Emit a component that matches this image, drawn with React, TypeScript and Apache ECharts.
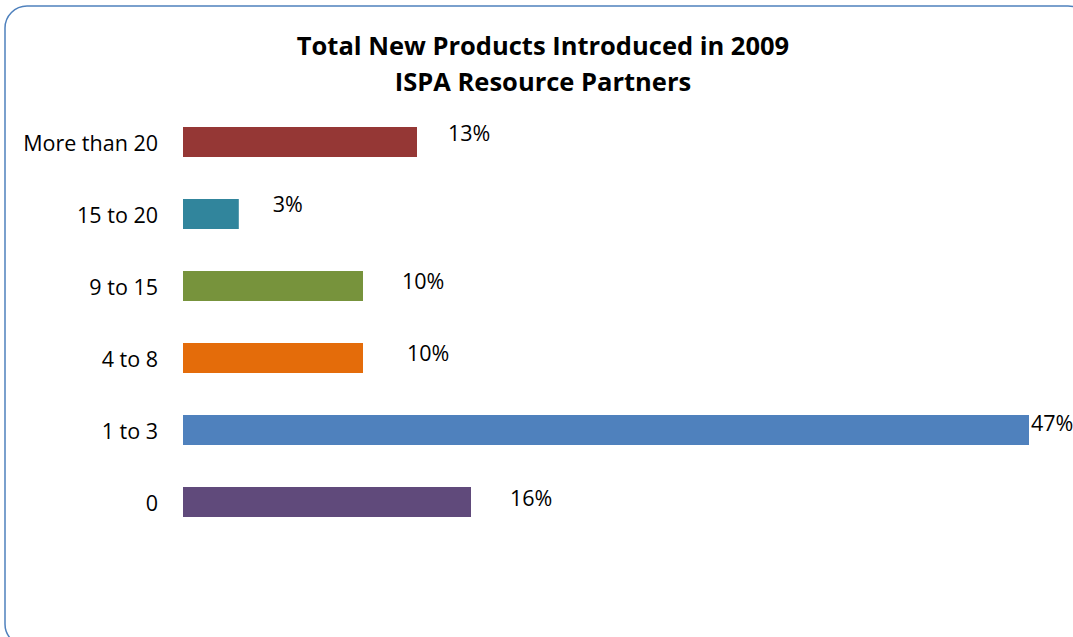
import React, { useEffect, useRef } from "react";
import * as echarts from "echarts";

const titleLines = ["Total New Products Introduced in 2009", "ISPA Resource Partners"];
const categories = ["0", "1 to 3", "4 to 8", "9 to 15", "15 to 20", "More than 20"];
const values = [16, 47, 10, 10, 3.1, 13];
const valueLabels = ["16%", "47%", "10%", "10%", "3%", "13%"];
const barColors = ["#604a7b", "#4f81bd", "#e46c0a", "#77933c", "#31859c", "#953735"];
const labelOffsets: [number, number][] = [
  [39, -5],
  [2, -8],
  [44, -6],
  [39, -6],
  [34, -11],
  [31, -10],
];

const FONT = "'Open Sans', sans-serif";

export default function App() {
  const ref = useRef<HTMLDivElement>(null);
  useEffect(() => {
    if (!ref.current) return;
    const chart = echarts.init(ref.current, undefined, { renderer: "svg" });
    chart.setOption({
      animation: false,
      backgroundColor: "#ffffff",
      graphic: [
        {
          type: "rect",
          shape: { x: 5, y: 6, width: 1085, height: 640, r: 22 },
          style: { fill: "none", stroke: "#4f81bd", lineWidth: 1.5 },
          silent: true,
        },
        ...titleLines.map((t, i) => ({
          type: "text",
          x: 543,
          y: 45 + i * 36,
          silent: true,
          style: {
            text: t,
            align: "center",
            verticalAlign: "middle",
            fontFamily: FONT,
            fontWeight: "bold",
            fontSize: 25.5,
            fill: "#000000",
          },
        })),
      ],
      grid: { left: 183, right: 44, top: 106, bottom: 99, containLabel: false },
      xAxis: {
        type: "value",
        min: 0,
        max: 47,
        show: false,
      },
      yAxis: {
        type: "category",
        data: categories,
        axisLine: { show: false },
        axisTick: { show: false },
        splitLine: { show: false },
        axisLabel: {
          margin: 25,
          fontFamily: FONT,
          fontSize: 21.5,
          color: "#000000",
        },
      },
      series: [
        {
          type: "bar",
          barWidth: 30,
          data: values.map((v, i) => ({
            value: v,
            itemStyle: { color: barColors[i] },
            label: {
              show: true,
              position: "right",
              distance: 0,
              offset: labelOffsets[i],
              formatter: () => valueLabels[i],
              fontFamily: FONT,
              fontSize: 21.5,
              color: "#000000",
            },
          })),
        },
      ],
    });
    return () => chart.dispose();
  }, []);
  return (
    <div
      ref={ref}
      style={{ position: "absolute", left: 0, top: 0, width: 1073, height: 637 }}
    />
  );
}
